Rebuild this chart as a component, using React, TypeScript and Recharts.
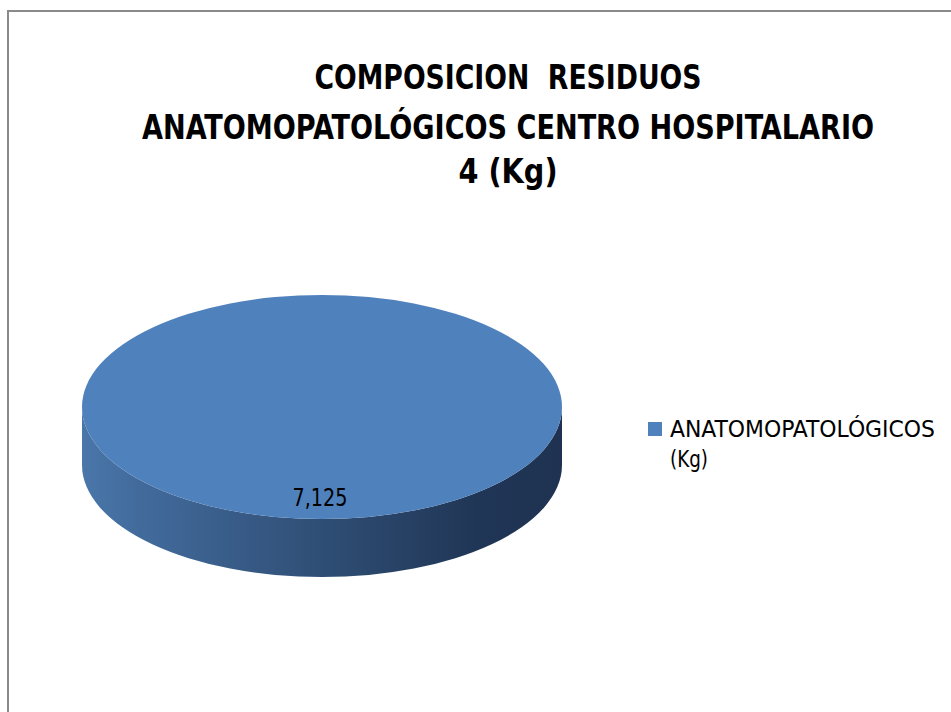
import React from 'react';
import { PieChart, Pie, Legend, Customized } from 'recharts';

const categories = ['ANATOMOPATOLÓGICOS (Kg)'];
const values = [7.125];
const titleLines = ['COMPOSICION  RESIDUOS', 'ANATOMOPATOLÓGICOS CENTRO HOSPITALARIO', '4 (Kg)'];
const legendLines = ['ANATOMOPATOLÓGICOS', '(Kg)'];
const colors = ['#4f81bd'];

const data = categories.map((name, i) => ({ name, value: values[i] }));

const FONT = '"DejaVu Sans Condensed", "Liberation Sans", sans-serif';
const TILT = 0.467;
const DEPTH = 58;

const fmt = (v: number) => v.toFixed(3).replace('.', ',');

const Disc3D = (props: any) => {
  const { cx, cy, outerRadius, midAngle, value, index } = props;
  const r = outerRadius;
  const ry = r * TILT;
  const gid = `side-grad-${index}`;
  const rad = (-midAngle * Math.PI) / 180;
  const lx = cx - 2;
  const ly = cy + ry * 0.81 * Math.sin(rad);
  return (
    <g>
      <defs>
        <linearGradient id={gid} x1="0" y1="0" x2="1" y2="0">
          <stop offset="0" stopColor="#4a76a9" />
          <stop offset="0.12" stopColor="#426b9c" />
          <stop offset="0.5" stopColor="#2f4e75" />
          <stop offset="0.82" stopColor="#203656" />
          <stop offset="1" stopColor="#1f3252" />
        </linearGradient>
      </defs>
      <path
        d={`M ${cx - r} ${cy} L ${cx - r} ${cy + DEPTH} A ${r} ${ry} 0 0 0 ${cx + r} ${cy + DEPTH} L ${cx + r} ${cy} A ${r} ${ry} 0 0 1 ${cx - r} ${cy} Z`}
        fill={`url(#${gid})`}
      />
      <ellipse cx={cx} cy={cy} rx={r} ry={ry} fill={colors[index % colors.length]} />
      <text
        x={lx}
        y={ly}
        textAnchor="middle"
        dominantBaseline="central"
        fontFamily={FONT}
        fontSize={24}
        textLength={55}
        lengthAdjust="spacingAndGlyphs"
        fill="#000"
      >
        {fmt(value)}
      </text>
    </g>
  );
};

const titleWidths = [387, 732, 99];
const titleBaselines = [89, 139, 183];

const Title = () => (
  <g>
    {titleLines.map((t, i) => (
      <text
        key={i}
        x={508}
        y={titleBaselines[i]}
        textAnchor="middle"
        fontFamily={FONT}
        fontWeight="bold"
        fontSize={33}
        textLength={titleWidths[i]}
        lengthAdjust="spacingAndGlyphs"
        fill="#000"
        style={{ whiteSpace: 'pre' }}
      >
        {t}
      </text>
    ))}
  </g>
);

const legendWidths = [265, 38];

const LegendContent = () => (
  <svg width={300} height={70} style={{ display: 'block' }}>
    <rect x={0} y={7} width={14} height={14} fill={colors[0]} />
    {legendLines.map((t, i) => (
      <text
        key={i}
        x={22}
        y={22 + i * 30}
        fontFamily={FONT}
        fontSize={23}
        textLength={legendWidths[i]}
        lengthAdjust="spacingAndGlyphs"
        fill="#000"
      >
        {t}
      </text>
    ))}
  </svg>
);

export default function App() {
  return (
    <div style={{ position: 'absolute', left: 0, top: 0, width: 951, height: 712, background: '#fff', overflow: 'hidden' }}>
      <div
        style={{
          position: 'absolute',
          left: 7,
          top: 10,
          width: 1200,
          height: 1000,
          border: '2px solid #8a8a8a',
          boxSizing: 'border-box',
        }}
      />
      <div style={{ position: 'absolute', left: 0, top: 0 }}>
        <PieChart width={951} height={712} margin={{ top: 0, right: 0, bottom: 0, left: 0 }}>
          <Customized component={Title} />
          <Pie
            data={data}
            dataKey="value"
            nameKey="name"
            cx={322}
            cy={407}
            outerRadius={240}
            startAngle={90}
            endAngle={-270}
            fill="transparent"
            fillOpacity={0}
            stroke="none"
            isAnimationActive={false}
            labelLine={false}
            label={Disc3D}
          />
          <Legend
            content={LegendContent}
            wrapperStyle={{ left: 648, top: 415, width: 300, height: 70 }}
          />
        </PieChart>
      </div>
    </div>
  );
}
